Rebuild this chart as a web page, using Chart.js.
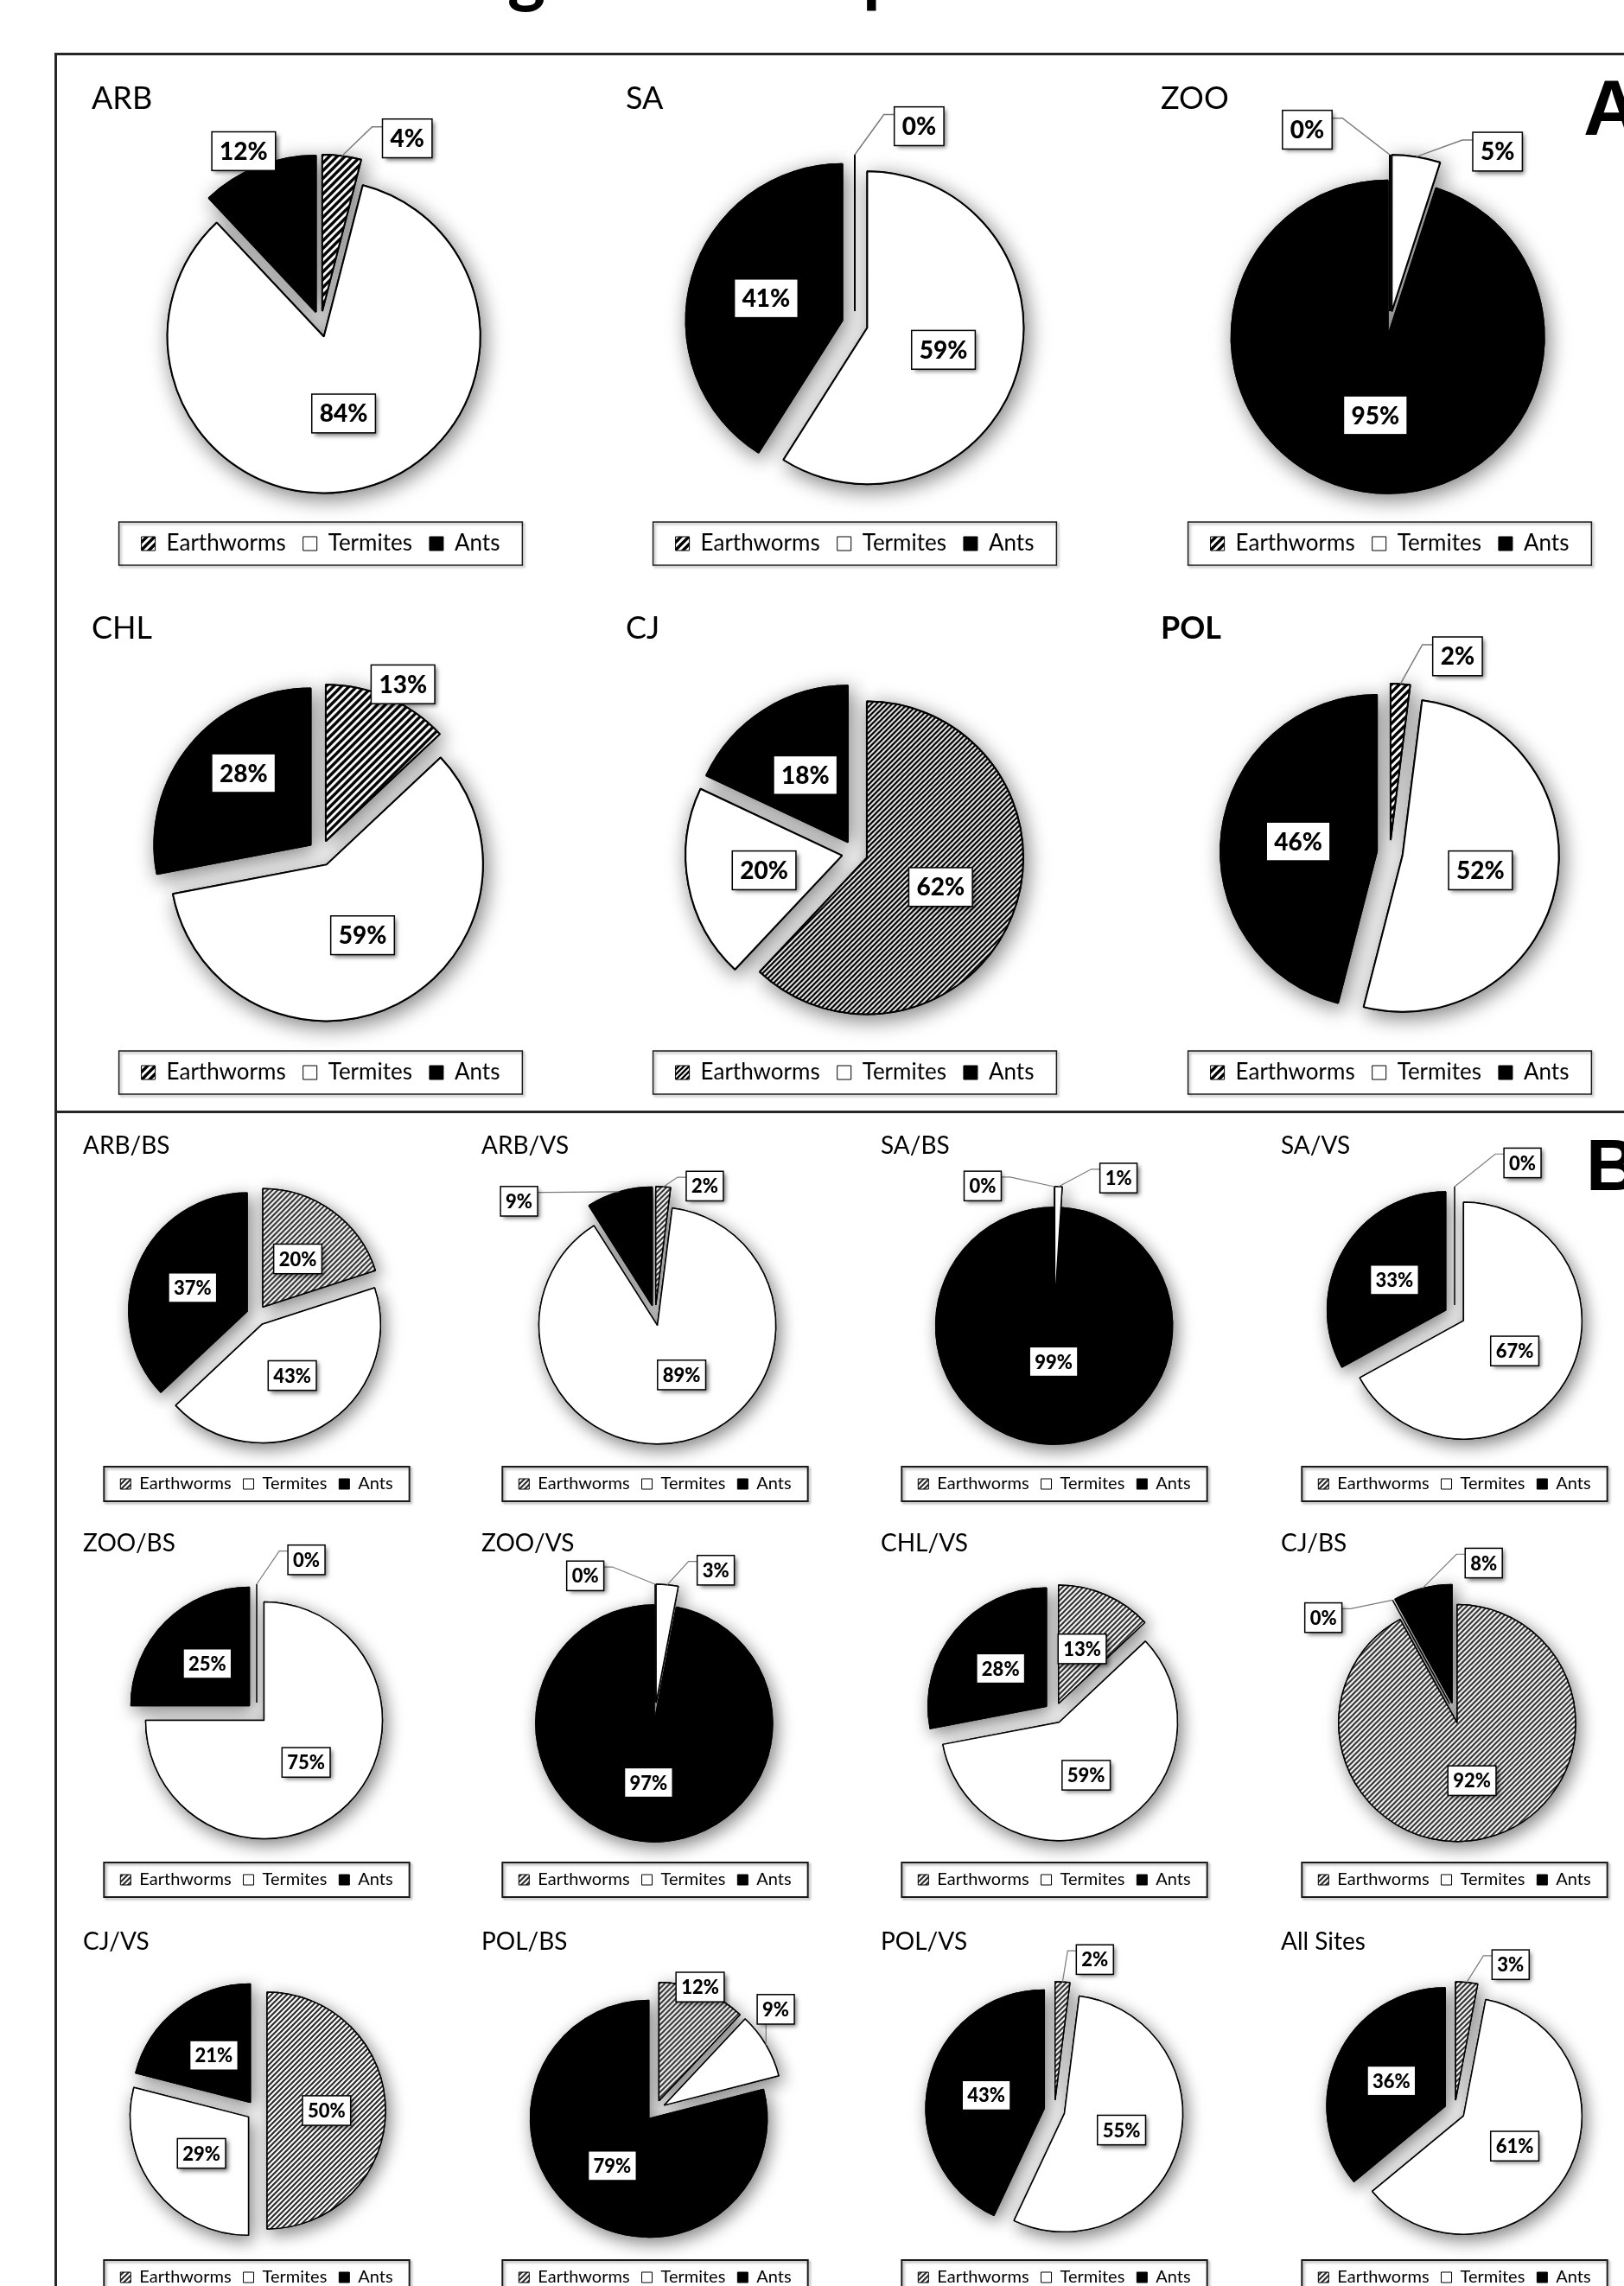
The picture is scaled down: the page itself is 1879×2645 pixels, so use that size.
<!DOCTYPE html>
<html>
<head>
<meta charset="utf-8">
<script src="https://cdn.jsdelivr.net/npm/chart.js@4.4.1/dist/chart.umd.min.js"></script>
<style>
  html, body { margin: 0; padding: 0; background: #fff; }
  body { width: 1879px; height: 2645px; position: relative; overflow: hidden; font-family: Lato, sans-serif; }
  .rule { position: absolute; background: #262626; }
  .heading { position: absolute; font: bold 84px Lato, sans-serif; line-height: 1; white-space: nowrap; color: #000; }
  .tag { position: absolute; font-weight: bold; font-family: "Liberation Sans", Arial, sans-serif; line-height: 1; color: #000; }
  canvas { position: absolute; }
</style>
</head>
<body>
<div class="heading" id="heading">Soil engineer composition</div>
<div class="rule" style="left:63px; top:61px; width:1816px; height:3px"></div>
<div class="rule" style="left:63px; top:61px; width:3px; height:2584px"></div>
<div class="rule" style="left:63px; top:1285px; width:1816px; height:3px"></div>
<div class="tag" style="left:1832px; top:80px; font-size:90px">A</div>
<div class="tag" style="left:1835px; top:1306px; font-size:84px">B</div>

<script>
const groups = ['Earthworms', 'Termites', 'Ants'];

// A: one pie per site
const sitesA = ['ARB', 'SA', 'ZOO', 'CHL', 'CJ', 'POL'];
const earthwormsA = [4, 0, 0, 13, 62, 2];
const termitesA = [84, 59, 5, 59, 20, 52];
const antsA = [12, 41, 95, 28, 18, 46];

// B: site / soil type
const sitesB = ['ARB/BS', 'ARB/VS', 'SA/BS', 'SA/VS', 'ZOO/BS', 'ZOO/VS',
                'CHL/VS', 'CJ/BS', 'CJ/VS', 'POL/BS', 'POL/VS', 'All Sites'];
const earthwormsB = [20, 2, 0, 0, 0, 0, 13, 92, 50, 12, 2, 3];
const termitesB = [43, 89, 1, 67, 75, 3, 59, 0, 29, 9, 55, 61];
const antsB = [37, 9, 99, 33, 25, 97, 28, 8, 21, 79, 43, 36];

// where each percentage box goes: null = inside on the bisector,
// otherwise [distance / radius, degrees clockwise from 12 o'clock, leader line]
const spotsA = [
  [[1.31, 25, true], null, [1.21, 336, false]],
  [[1.33, 18, true], null, null],
  [[1.35, 337, true], [1.30, 32, true], null],
  [[1.20, 26, false], null, [0.71, 316, false]],
  [null, null, null],
  [[1.33, 19, true], null, null]
];
const spotsB = [
  [null, null, null],
  [[1.17, 21, true], [0.55, 156, false], [1.50, 310, true]],
  [[1.25, 331, true], [1.28, 25, true], [0.39, 181, false]],
  [[1.41, 24, true], null, null],
  [[1.36, 18, true], null, null],
  [[1.30, 333, true], [1.31, 23, true], null],
  [null, null, null],
  [null, [1.37, 306, true], [1.29, 11, true]],
  [null, null, null],
  [[1.11, 20, false], [1.33, 50, true], null],
  [[1.32, 15, true], null, null],
  [[1.32, 21, true], null, null]
];

Chart.defaults.font.family = 'Lato, sans-serif';
Chart.defaults.color = '#000';

function makeHatch(size, width, ink) {
  const c = document.createElement('canvas');
  c.width = c.height = size;
  const g = c.getContext('2d');
  g.fillStyle = '#fff';
  g.fillRect(0, 0, size, size);
  g.strokeStyle = ink;
  g.lineWidth = width;
  g.beginPath();
  g.moveTo(-size / 2, size / 2); g.lineTo(size / 2, -size / 2);
  g.moveTo(0, size); g.lineTo(size, 0);
  g.moveTo(size / 2, size * 1.5); g.lineTo(size * 1.5, size / 2);
  g.stroke();
  return g.createPattern(c, 'repeat');
}

const styleA = {
  radius: 181, explode: 15, halfW: 265, titleFont: 36, legendFont: 26, legendBox: 16,
  legendGap: 20, framePadX: 26, framePadY: 12, frameWidth: 1.5, labelFont: 28,
  padX: 9, padY: 7, border: 2, leaderWidth: 1.5, elbow: 12, shadowBlur: 24
};
const styleB = {
  radius: 137, explode: 12, halfW: 201, titleFont: 28, legendFont: 20, legendBox: 12,
  legendGap: 14, framePadX: 19, framePadY: 10, frameWidth: 2, labelFont: 22,
  padX: 6, padY: 5, border: 1.5, leaderWidth: 1.2, elbow: 10, shadowBlur: 20
};

function drawShifted(ctx, arc, d) {
  const mid = (arc.startAngle + arc.endAngle) / 2;
  ctx.save();
  ctx.translate(Math.cos(mid) * d, Math.sin(mid) * d);
  arc.draw(ctx);
  ctx.restore();
}

const pieExtras = {
  id: 'pieExtras',
  beforeDatasetsDraw(chart, args, opts) {
    const ctx = chart.ctx;
    ctx.save();
    ctx.shadowColor = 'rgba(0,0,0,0.5)';
    ctx.shadowBlur = opts.shadowBlur;
    ctx.shadowOffsetX = 4;
    ctx.shadowOffsetY = 6;
    chart.getDatasetMeta(0).data.forEach(a => {
      if (a.circumference > 0) drawShifted(ctx, a, opts.explode);
    });
    ctx.restore();
  },
  beforeDatasetDraw(chart, args, opts) {
    const ctx = chart.ctx;
    chart.getDatasetMeta(0).data.forEach(a => {
      if (a.circumference > 0) {
        drawShifted(ctx, a, opts.explode);
      } else {
        // an empty slice still shows as a thin spoke
        const ang = a.startAngle;
        ctx.save();
        ctx.strokeStyle = '#000';
        ctx.lineWidth = opts.border;
        ctx.beginPath();
        ctx.moveTo(a.x + Math.cos(ang) * opts.explode, a.y + Math.sin(ang) * opts.explode);
        ctx.lineTo(a.x + Math.cos(ang) * (opts.explode + a.outerRadius), a.y + Math.sin(ang) * (opts.explode + a.outerRadius));
        ctx.stroke();
        ctx.restore();
      }
    });
    return false;
  },
  afterDatasetsDraw(chart, args, opts) {
    const ctx = chart.ctx;
    const values = chart.data.datasets[0].data;
    const R = opts.radius;
    chart.getDatasetMeta(0).data.forEach((a, i) => {
      const spot = opts.spots[i];
      const mid = a.circumference > 0 ? (a.startAngle + a.endAngle) / 2 : a.startAngle;
      let ang = mid, r = 0.59 * R;
      if (spot) { r = spot[0] * R; ang = (spot[1] - 90) * Math.PI / 180; }
      const px = a.x + Math.cos(ang) * r;
      const py = a.y + Math.sin(ang) * r;
      const text = values[i] + '%';
      ctx.save();
      ctx.font = '900 ' + opts.labelFont + 'px Lato, sans-serif';
      const w = ctx.measureText(text).width + 2 * opts.padX;
      const h = opts.labelFont * 1.1 + 2 * opts.padY;
      const bl = px - w / 2, br = px + w / 2, bt = py - h / 2, bb = py + h / 2;
      if (spot && spot[2]) {
        const ax = a.x + Math.cos(mid) * (opts.explode + R);
        const ay = a.y + Math.sin(mid) * (opts.explode + R);
        ctx.strokeStyle = '#7a7a7a';
        ctx.lineWidth = opts.leaderWidth;
        ctx.beginPath();
        ctx.moveTo(ax, ay);
        if (ax >= bl && ax <= br) {
          ctx.lineTo(ax, ay > bb ? bb : bt);
        } else {
          const side = ax < bl ? bl : br;
          const ey = bt + h * 0.2;
          ctx.lineTo(side + (ax < bl ? -opts.elbow : opts.elbow), ey);
          ctx.lineTo(side, ey);
        }
        ctx.stroke();
      }
      ctx.save();
      ctx.shadowColor = 'rgba(0,0,0,0.55)';
      ctx.shadowBlur = 5;
      ctx.shadowOffsetX = 3;
      ctx.shadowOffsetY = 3;
      ctx.fillStyle = '#fff';
      ctx.fillRect(bl, bt, w, h);
      ctx.restore();
      ctx.strokeStyle = '#000';
      ctx.lineWidth = 1.5;
      ctx.strokeRect(bl, bt, w, h);
      ctx.fillStyle = '#000';
      ctx.textAlign = 'center';
      ctx.textBaseline = 'middle';
      ctx.fillText(text, px, py + 1);
      ctx.restore();
    });
  },
  afterDraw(chart, args, opts) {
    // box round the legend
    const hb = chart.legend.legendHitBoxes;
    if (!hb || !hb.length) return;
    const left = Math.min(...hb.map(b => b.left)) - opts.framePadX;
    const right = Math.max(...hb.map(b => b.left + b.width)) + opts.framePadX;
    const top = hb[0].top - opts.framePadY;
    const bottom = hb[0].top + hb[0].height + opts.framePadY;
    const ctx = chart.ctx;
    ctx.save();
    ctx.strokeStyle = '#1a1a1a';
    ctx.lineWidth = opts.frameWidth;
    ctx.shadowColor = 'rgba(0,0,0,0.35)';
    ctx.shadowBlur = 3;
    ctx.shadowOffsetX = 2;
    ctx.shadowOffsetY = 2;
    ctx.strokeRect(left, top, right - left, bottom - top);
    ctx.restore();
  }
};

function placePie(name, values, spots, cx, cy, titleY, legendY, st, hatch, bold) {
  const top = Math.round(titleY - st.titleFont * 1.4);
  const left = cx - st.halfW;
  const titleLH = st.titleFont * 1.2;
  const padTop = titleY - top - titleLH / 2;
  const legendH = st.legendFont + st.legendGap + 10;
  const legendTop = legendY - top - st.legendGap - st.legendFont / 2;
  const titleGap = Math.max(2 * (cy - top) - padTop - titleLH - legendTop, 0);
  const H = Math.round(legendTop + legendH + 8);
  const padBottom = H - legendTop - legendH;

  const canvas = document.createElement('canvas');
  canvas.width = st.halfW * 2;
  canvas.height = H;
  canvas.style.left = left + 'px';
  canvas.style.top = top + 'px';
  document.body.appendChild(canvas);

  new Chart(canvas, {
    type: 'pie',
    data: {
      labels: groups,
      datasets: [{
        data: values,
        backgroundColor: [hatch, '#ffffff', '#000000'],
        borderColor: '#000000',
        borderWidth: st.border,
        radius: st.radius
      }]
    },
    options: {
      responsive: false,
      animation: false,
      events: [],
      layout: { padding: { top: padTop, bottom: padBottom, left: 0, right: 0 } },
      plugins: {
        title: {
          display: true,
          text: name,
          align: 'start',
          color: '#000',
          font: { size: st.titleFont, weight: bold ? 'bold' : 'normal' },
          padding: { top: 0, bottom: titleGap }
        },
        legend: {
          position: 'bottom',
          labels: {
            color: '#000',
            font: { size: st.legendFont },
            boxWidth: st.legendBox,
            boxHeight: st.legendBox,
            padding: st.legendGap,
            generateLabels(chart) {
              const ds = chart.data.datasets[0];
              return chart.data.labels.map((t, i) => ({
                text: t,
                fillStyle: ds.backgroundColor[i],
                strokeStyle: '#000',
                lineWidth: 1,
                fontColor: '#000',
                hidden: false,
                index: i
              }));
            }
          }
        },
        tooltip: { enabled: false },
        pieExtras: Object.assign({ spots }, st)
      }
    },
    plugins: [pieExtras]
  });
}

// panel A grid
const colA = [371, 989, 1608];
const rowA = [{ cy: 375, title: 114, legend: 629 }, { cy: 987, title: 727, legend: 1241 }];
const hatchA = makeHatch(9, 3.4, '#000');
const hatchDense = makeHatch(6, 2.3, '#000');
sitesA.forEach((name, i) => {
  const col = colA[i % 3], row = rowA[Math.floor(i / 3)];
  placePie(name, [earthwormsA[i], termitesA[i], antsA[i]], spotsA[i], col, row.cy, row.title, row.legend,
    styleA, name === 'CJ' ? hatchDense : hatchA, name === 'POL');
});

// panel B grid
const colB = [297, 758, 1220, 1683];
const rowB = [{ cy: 1522, title: 1326, legend: 1717 }, { cy: 1982, title: 1786, legend: 2175 }, { cy: 2442, title: 2247, legend: 2635 }];
const hatchB = makeHatch(6, 2.2, '#2e2e2e');
sitesB.forEach((name, i) => {
  const col = colB[i % 4], row = rowB[Math.floor(i / 4)];
  placePie(name, [earthwormsB[i], termitesB[i], antsB[i]], spotsB[i], col, row.cy, row.title, row.legend,
    styleB, hatchB, false);
});

// heading runs off the top edge; line its "g" up over the first column gap
(function () {
  const el = document.getElementById('heading');
  const g = document.createElement('canvas').getContext('2d');
  g.font = 'bold 84px Lato, sans-serif';
  const lead = g.measureText('Soil en').width;
  el.style.left = (587 - lead) + 'px';
  el.style.top = '-76px';
})();
</script>
</body>
</html>
